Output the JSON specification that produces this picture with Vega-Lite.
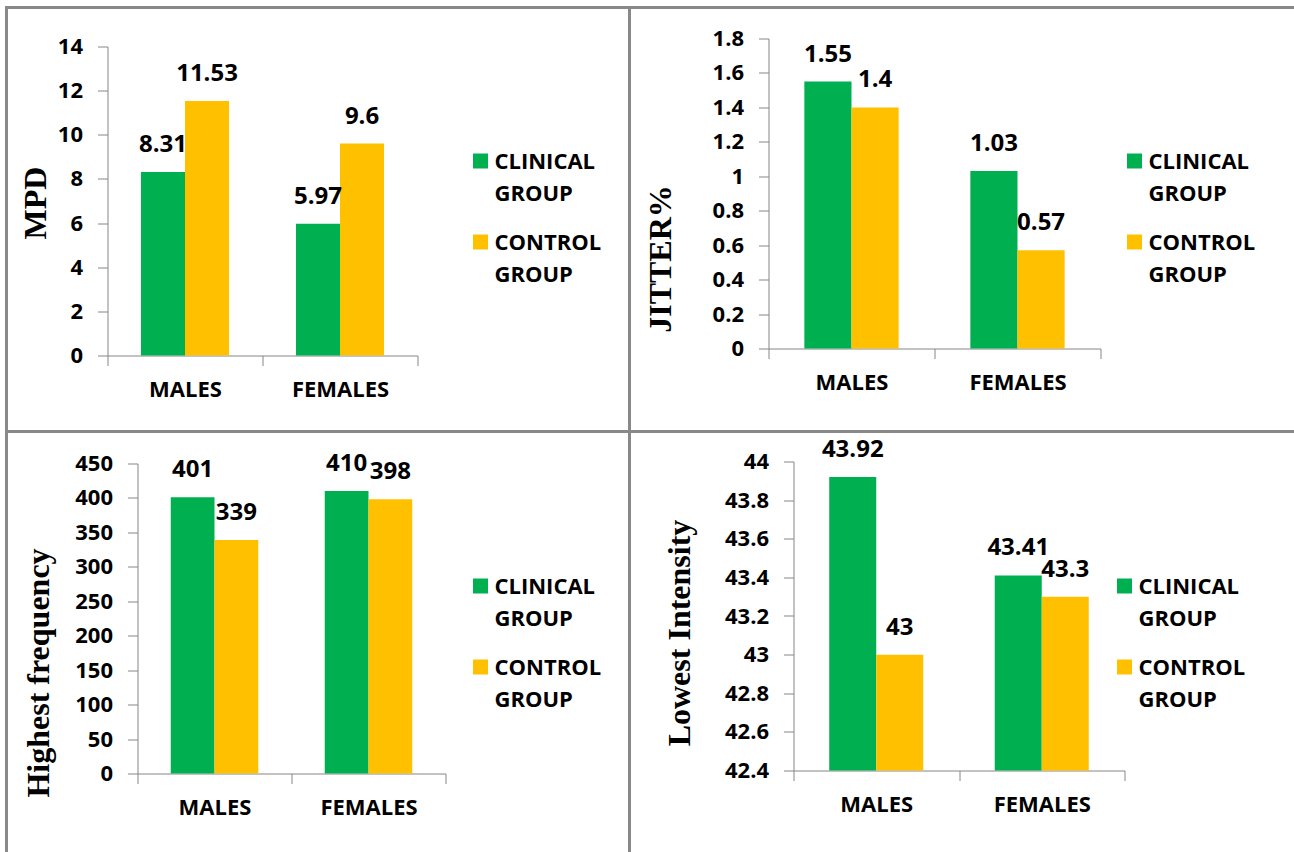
{
  "$schema": "https://vega.github.io/schema/vega-lite/v6.json",
  "background": "white",
  "padding": {"left": 4.5, "top": 5.5, "right": -8.5, "bottom": -5.5},
  "bounds": "flush",
  "spacing": 0,
  "columns": 2,
  "datasets": {
    "mpd": [
      {"sex": "MALES", "group": "CLINICAL GROUP", "value": 8.31},
      {"sex": "MALES", "group": "CONTROL GROUP", "value": 11.53},
      {"sex": "FEMALES", "group": "CLINICAL GROUP", "value": 5.97},
      {"sex": "FEMALES", "group": "CONTROL GROUP", "value": 9.6}
    ],
    "jitter": [
      {"sex": "MALES", "group": "CLINICAL GROUP", "value": 1.55},
      {"sex": "MALES", "group": "CONTROL GROUP", "value": 1.4},
      {"sex": "FEMALES", "group": "CLINICAL GROUP", "value": 1.03},
      {"sex": "FEMALES", "group": "CONTROL GROUP", "value": 0.57}
    ],
    "freq": [
      {"sex": "MALES", "group": "CLINICAL GROUP", "value": 401},
      {"sex": "MALES", "group": "CONTROL GROUP", "value": 339},
      {"sex": "FEMALES", "group": "CLINICAL GROUP", "value": 410},
      {"sex": "FEMALES", "group": "CONTROL GROUP", "value": 398}
    ],
    "intensity": [
      {"sex": "MALES", "group": "CLINICAL GROUP", "value": 43.92},
      {"sex": "MALES", "group": "CONTROL GROUP", "value": 43},
      {"sex": "FEMALES", "group": "CLINICAL GROUP", "value": 43.41},
      {"sex": "FEMALES", "group": "CONTROL GROUP", "value": 43.3}
    ]
  },
  "resolve": {"scale": {"color": "independent", "x": "independent", "y": "independent", "xOffset": "independent"}, "legend": {"color": "independent"}},
  "concat": [
    {
      "width": 623,
      "height": 424,
      "data": {"name": "mpd"},
      "encoding": {
        "x": {"field": "sex", "type": "nominal", "sort": ["MALES", "FEMALES"],
              "scale": {"range": [101, 411], "paddingInner": 0, "paddingOuter": 0},
              "axis": {"title": null, "labelAngle": 0, "tickBand": "extent", "offset": -76, "labelPadding": 14}},
        "xOffset": {"field": "group", "type": "nominal", "sort": ["CLINICAL GROUP", "CONTROL GROUP"],
                    "scale": {"paddingInner": 0, "paddingOuter": 0.76}},
        "y": {"field": "value", "type": "quantitative",
              "scale": {"domain": [0, 14], "range": [348, 39], "nice": false, "zero": false},
              "axis": {"title": "MPD", "values": [0, 2, 4, 6, 8, 10, 12, 14], "format": "~f", "offset": -101, "labelPadding": 15, "titleX": -72, "titleY": 195, "titleBaseline": "middle"}}
      },
      "layer": [
        {"mark": {"type": "bar"},
         "encoding": {"y2": {"datum": 0},
                      "color": {"field": "group", "type": "nominal",
                                "scale": {"domain": ["CLINICAL GROUP", "CONTROL GROUP"], "range": ["#00B050", "#FFC000"]},
                                "legend": {"orient": "none", "legendX": 463, "legendY": 150}}}},
        {"mark": {"type": "text", "dy": -27, "baseline": "middle", "align": "center", "fontSize": 24, "font": "Open Sans", "fontWeight": "bold", "color": "black"},
         "encoding": {"text": {"field": "value", "type": "nominal"}}}
      ]
    },
    {
      "width": 672,
      "height": 424,
      "data": {"name": "jitter"},
      "encoding": {
        "x": {"field": "sex", "type": "nominal", "sort": ["MALES", "FEMALES"],
              "scale": {"range": [139, 471], "paddingInner": 0, "paddingOuter": 0},
              "axis": {"title": null, "labelAngle": 0, "tickBand": "extent", "offset": -83, "labelPadding": 14}},
        "xOffset": {"field": "group", "type": "nominal", "sort": ["CLINICAL GROUP", "CONTROL GROUP"],
                    "scale": {"paddingInner": 0, "paddingOuter": 0.76}},
        "y": {"field": "value", "type": "quantitative",
              "scale": {"domain": [0, 1.8], "range": [341, 31], "nice": false, "zero": false},
              "axis": {"title": "JITTER%", "values": [0, 0.2, 0.4, 0.6, 0.8, 1, 1.2, 1.4, 1.6, 1.8], "format": "~f", "offset": -139, "labelPadding": 15, "titleX": -108, "titleY": 251, "titleBaseline": "middle"}}
      },
      "layer": [
        {"mark": {"type": "bar"},
         "encoding": {"y2": {"datum": 0},
                      "color": {"field": "group", "type": "nominal",
                                "scale": {"domain": ["CLINICAL GROUP", "CONTROL GROUP"], "range": ["#00B050", "#FFC000"]},
                                "legend": {"orient": "none", "legendX": 494, "legendY": 150}}}},
        {"mark": {"type": "text", "dy": -27, "baseline": "middle", "align": "center", "fontSize": 24, "font": "Open Sans", "fontWeight": "bold", "color": "black"},
         "encoding": {"text": {"field": "value", "type": "nominal"}}}
      ]
    },
    {
      "width": 623,
      "height": 425,
      "data": {"name": "freq"},
      "encoding": {
        "x": {"field": "sex", "type": "nominal", "sort": ["MALES", "FEMALES"],
              "scale": {"range": [131, 439], "paddingInner": 0, "paddingOuter": 0},
              "axis": {"title": null, "labelAngle": 0, "tickBand": "extent", "offset": -83, "labelPadding": 14}},
        "xOffset": {"field": "group", "type": "nominal", "sort": ["CLINICAL GROUP", "CONTROL GROUP"],
                    "scale": {"paddingInner": 0, "paddingOuter": 0.76}},
        "y": {"field": "value", "type": "quantitative",
              "scale": {"domain": [0, 450], "range": [342, 32], "nice": false, "zero": false},
              "axis": {"title": "Highest frequency", "values": [0, 50, 100, 150, 200, 250, 300, 350, 400, 450], "format": "~f", "offset": -131, "labelPadding": 15, "titleX": -99, "titleY": 241, "titleBaseline": "middle"}}
      },
      "layer": [
        {"mark": {"type": "bar"},
         "encoding": {"y2": {"datum": 0},
                      "color": {"field": "group", "type": "nominal",
                                "scale": {"domain": ["CLINICAL GROUP", "CONTROL GROUP"], "range": ["#00B050", "#FFC000"]},
                                "legend": {"orient": "none", "legendX": 463, "legendY": 151}}}},
        {"mark": {"type": "text", "dy": -27, "baseline": "middle", "align": "center", "fontSize": 24, "font": "Open Sans", "fontWeight": "bold", "color": "black"},
         "encoding": {"text": {"field": "value", "type": "nominal"}}}
      ]
    },
    {
      "width": 672,
      "height": 425,
      "data": {"name": "intensity"},
      "encoding": {
        "x": {"field": "sex", "type": "nominal", "sort": ["MALES", "FEMALES"],
              "scale": {"range": [164, 495], "paddingInner": 0, "paddingOuter": 0},
              "axis": {"title": null, "labelAngle": 0, "tickBand": "extent", "offset": -86, "labelPadding": 14}},
        "xOffset": {"field": "group", "type": "nominal", "sort": ["CLINICAL GROUP", "CONTROL GROUP"],
                    "scale": {"paddingInner": 0, "paddingOuter": 0.76}},
        "y": {"field": "value", "type": "quantitative",
              "scale": {"domain": [42.4, 44], "range": [339, 30], "nice": false, "zero": false},
              "axis": {"title": "Lowest Intensity", "values": [42.4, 42.6, 42.8, 43, 43.2, 43.4, 43.6, 43.8, 44], "format": "~f", "offset": -164, "labelPadding": 15, "titleX": -114, "titleY": 201, "titleBaseline": "middle"}}
      },
      "layer": [
        {"mark": {"type": "bar"},
         "encoding": {"y2": {"datum": 42.4},
                      "color": {"field": "group", "type": "nominal",
                                "scale": {"domain": ["CLINICAL GROUP", "CONTROL GROUP"], "range": ["#00B050", "#FFC000"]},
                                "legend": {"orient": "none", "legendX": 484, "legendY": 151}}}},
        {"mark": {"type": "text", "dy": -27, "baseline": "middle", "align": "center", "fontSize": 24, "font": "Open Sans", "fontWeight": "bold", "color": "black"},
         "encoding": {"text": {"field": "value", "type": "nominal"}}}
      ]
    }
  ],
  "config": {
    "view": {"stroke": "#898989", "strokeWidth": 3},
    "axis": {
      "domainColor": "#868686", "tickColor": "#868686", "domainWidth": 1, "tickWidth": 1, "tickSize": 10,
      "labelFont": "Open Sans", "labelFontWeight": "bold", "labelFontSize": 22, "labelColor": "black",
      "titleFont": "Liberation Serif", "titleFontWeight": "bold", "titleFontSize": 32, "titleColor": "black",
      "grid": false
    },
    "legend": {
      "title": null, "labelFont": "Open Sans", "labelFontWeight": "bold", "labelFontSize": 22, "labelColor": "black",
      "labelBaseline": "alphabetic", "labelOffset": 3, "labelLimit": 0,
      "symbolType": "M-1,-2H1V0H-1Z", "symbolSize": 225, "symbolStrokeWidth": 0, "rowPadding": 27, "padding": 0
    },
    "style": {"guide-label": {"lineHeight": 32, "lineBreak": " "}}
  }
}
